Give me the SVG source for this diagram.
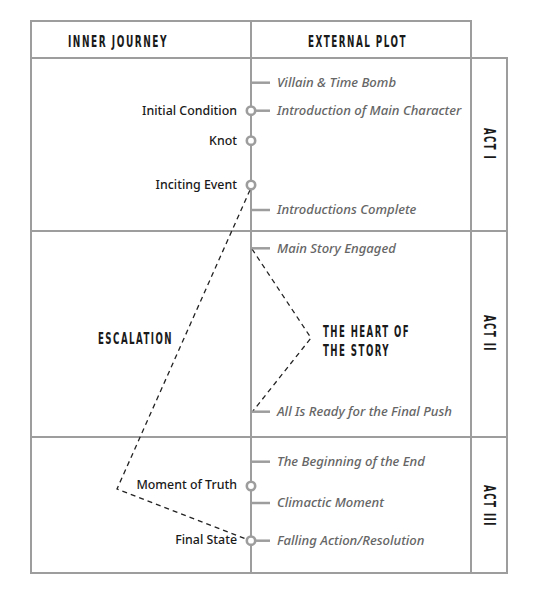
<svg xmlns="http://www.w3.org/2000/svg" width="545" height="589" viewBox="0 0 545 589">
<style>
.frame{fill:none;stroke:#9d9d9d;stroke-width:2}
.tick{stroke:#9d9d9d;stroke-width:2.5}
.dot{fill:#fff;stroke:#9d9d9d;stroke-width:2.6}
.dash{fill:none;stroke:#222;stroke-width:1.3;stroke-dasharray:5 4}
.head{font-family:"DejaVu Sans Condensed","DejaVu Sans",sans-serif;font-weight:bold;font-size:16.5px;letter-spacing:2.5px;fill:#1a1a1a}
.lbl{font-family:"Noto Sans","Open Sans",sans-serif;font-size:12.4px;font-weight:500;fill:#1a1a1a;text-anchor:end}
.plot{font-family:"Noto Sans","Open Sans",sans-serif;font-size:13.1px;font-weight:500;font-style:italic;fill:#666}
</style>
<rect width="545" height="589" fill="#fff"/>
<g id="table">
<rect class="frame" x="31" y="21" width="440" height="552"/>
<line class="frame" x1="31" y1="58" x2="507" y2="58"/>
<line class="frame" x1="31" y1="231" x2="507" y2="231"/>
<line class="frame" x1="31" y1="437" x2="507" y2="437"/>
<polyline class="frame" points="471,58 507,58 507,573 471,573"/>
<line class="frame" x1="251" y1="21" x2="251" y2="573"/>
</g>
<g id="headers">
<text class="head" x="68" y="47" textLength="100" lengthAdjust="spacingAndGlyphs">INNER JOURNEY</text>
<text class="head" x="308" y="47" textLength="99" lengthAdjust="spacingAndGlyphs">EXTERNAL PLOT</text>
<text class="head" transform="translate(483.5,128) rotate(90)" textLength="32" lengthAdjust="spacingAndGlyphs">ACT I</text>
<text class="head" transform="translate(483.5,315) rotate(90)" textLength="37" lengthAdjust="spacingAndGlyphs">ACT II</text>
<text class="head" transform="translate(483.5,485) rotate(90)" textLength="42" lengthAdjust="spacingAndGlyphs">ACT III</text>
</g>
<g id="connectors">
<polyline class="dash" points="250,190 117,489 251,541"/>
<polyline class="dash" points="252,249 311,338 253,411"/>
</g>
<g id="ticks">
<line class="tick" x1="251" y1="82.7" x2="270" y2="82.7"/>
<line class="tick" x1="251" y1="110.7" x2="270" y2="110.7"/>
<line class="tick" x1="251" y1="210" x2="270" y2="210"/>
<line class="tick" x1="251" y1="248.3" x2="270" y2="248.3"/>
<line class="tick" x1="251" y1="411.7" x2="270" y2="411.7"/>
<line class="tick" x1="251" y1="461.7" x2="270" y2="461.7"/>
<line class="tick" x1="251" y1="503" x2="270" y2="503"/>
<line class="tick" x1="251" y1="540.7" x2="270" y2="540.7"/>
</g>
<g id="node-initial-condition"><circle class="dot" cx="251" cy="110.7" r="4.2"/><text class="lbl" x="237" y="115">Initial Condition</text></g>
<g id="node-knot"><circle class="dot" cx="251" cy="140.7" r="4.2"/><text class="lbl" x="237" y="145">Knot</text></g>
<g id="node-inciting-event"><circle class="dot" cx="251" cy="185" r="4.2"/><text class="lbl" x="237" y="189">Inciting Event</text></g>
<g id="node-moment-of-truth"><circle class="dot" cx="251" cy="486" r="4.2"/><text class="lbl" x="237" y="489">Moment of Truth</text></g>
<g id="node-final-state"><circle class="dot" cx="251" cy="540.7" r="4.2"/><text class="lbl" x="237" y="544">Final State</text></g>
<g id="plot-labels">
<text class="plot" x="277" y="87">Villain &amp; Time Bomb</text>
<text class="plot" x="277" y="115">Introduction of Main Character</text>
<text class="plot" x="277" y="214">Introductions Complete</text>
<text class="plot" x="277" y="253">Main Story Engaged</text>
<text class="plot" x="277" y="416">All Is Ready for the Final Push</text>
<text class="plot" x="277" y="466">The Beginning of the End</text>
<text class="plot" x="277" y="507">Climactic Moment</text>
<text class="plot" x="277" y="545">Falling Action/Resolution</text>
</g>
<g id="node-escalation"><text class="head" x="98" y="344" textLength="75" lengthAdjust="spacingAndGlyphs">ESCALATION</text></g>
<g id="node-heart">
<text class="head" x="323" y="337" textLength="87" lengthAdjust="spacingAndGlyphs">THE HEART OF</text>
<text class="head" x="323" y="356" textLength="67" lengthAdjust="spacingAndGlyphs">THE STORY</text>
</g>
</svg>
